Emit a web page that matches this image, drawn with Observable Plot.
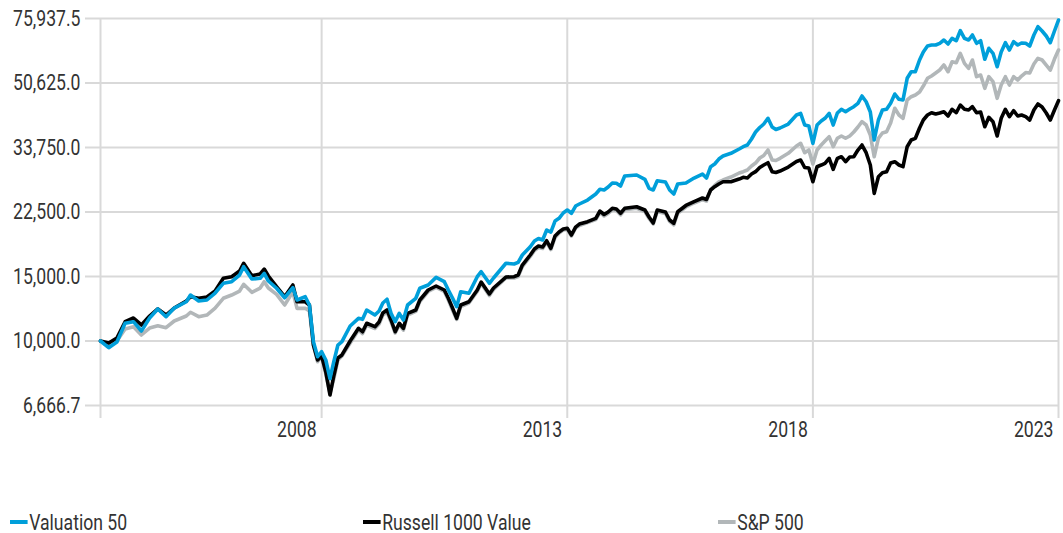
<!DOCTYPE html>
<html><head><meta charset="utf-8">
<script src="https://cdn.jsdelivr.net/npm/d3@7"></script>
<script src="https://cdn.jsdelivr.net/npm/@observablehq/plot@0.6"></script>
<style>
body{margin:0;background:#fff;font-family:Roboto,sans-serif;width:1063px;height:533px;overflow:hidden;position:relative;}
#chart{position:absolute;left:0;top:0;}
.legend-item{position:absolute;top:510px;display:flex;align-items:center;font-size:22px;line-height:1.17;color:#333;transform:scaleX(0.8);transform-origin:left center;white-space:nowrap;}
.swatch{display:inline-block;width:22px;height:4px;margin-right:2px;position:relative;top:-1px;}
</style></head><body>
<div id="chart"></div>
<div id="legend"></div>
<script>
const dates = [
"2004-06","2004-08","2004-10","2004-12","2005-02","2005-04","2005-06","2005-08","2005-10","2005-12","2006-03","2006-04","2006-06","2006-08","2006-10","2006-12","2007-02","2007-04","2007-05","2007-07","2007-09","2007-10","2007-11","2008-01","2008-03","2008-05","2008-06","2008-08","2008-09","2008-10","2008-11","2008-12",
"2009-01","2009-02","2009-03","2009-04","2009-05","2009-07","2009-09","2009-10","2009-11","2010-01","2010-02","2010-03","2010-04","2010-05","2010-06","2010-07","2010-08","2010-09","2010-11","2010-12","2011-02","2011-04","2011-06","2011-07","2011-08","2011-09","2011-10","2011-12","2012-02","2012-03","2012-05","2012-06","2012-09","2012-11","2012-12","2013-01","2013-03","2013-04","2013-05","2013-06","2013-07","2013-08","2013-09","2013-10","2013-11","2013-12",
"2014-01","2014-02","2014-03","2014-05","2014-07","2014-08","2014-09","2014-10","2014-11","2014-12","2015-01","2015-02","2015-05","2015-07","2015-08","2015-09","2015-10","2015-12","2016-01","2016-02","2016-03","2016-05","2016-07","2016-09","2016-10","2016-11","2016-12","2017-01","2017-02","2017-04","2017-06","2017-07","2017-08","2017-09","2017-10","2017-11","2017-12","2018-01","2018-02","2018-03","2018-04","2018-06","2018-08","2018-09","2018-10","2018-11","2018-12",
"2019-01","2019-02","2019-03","2019-04","2019-05","2019-06","2019-07","2019-08","2019-09","2019-10","2019-11","2019-12",
"2020-01","2020-02","2020-03","2020-04","2020-05","2020-06","2020-07","2020-08","2020-09","2020-10","2020-11","2020-12",
"2021-01","2021-02","2021-03","2021-04","2021-05","2021-06","2021-07","2021-08","2021-09","2021-10","2021-11","2021-12",
"2022-01","2022-02","2022-03","2022-04","2022-05","2022-06","2022-07","2022-08","2022-09","2022-10","2022-11","2022-12",
"2023-01","2023-02","2023-03","2023-04","2023-05","2023-06","2023-07","2023-08","2023-09","2023-10","2023-11","2023-12"
];

const valuation50 = [
10000,9590,9940,11180,11290,10650,11555,12230,11650,12300,12800,13350,12860,12940,13520,14370,14520,15140,15950,14765,14830,15300,14580,13930,13125,13980,12940,13210,12540,9956,9060,9350,
8875,7890,8765,9750,9956,10990,11530,11460,12150,11775,12075,12700,13000,11900,11290,11900,11410,12540,13080,13930,14220,14920,14520,13780,13100,12410,13630,13500,14980,15460,14370,14860,16300,16230,16400,17170,18090,18750,19050,18870,20090,19840,21260,21620,22360,22780,
22320,23360,23660,24260,25190,25950,25840,26330,27010,26960,26490,28210,28390,27630,26110,25840,27390,27170,25840,25190,26830,27010,27860,28570,27860,29910,30420,31390,31990,32540,33430,33920,34280,35600,37200,38270,39120,40550,38390,37790,38150,39120,41400,41840,38870,38630,34650,
38870,39865,40550,41840,38870,41920,42910,42270,42990,43610,44560,46650,
45010,42190,35380,40120,42720,42910,44560,47240,45690,45490,52140,54350,
54350,58500,61510,63880,64280,64280,64970,66330,64680,67040,66040,70330,
67040,66330,68450,64970,66040,58760,62960,61010,56080,61510,65210,62290,
65630,64280,65090,64970,63880,68450,72120,70190,68020,65210,70190,75220
];

const russell1000Value = [
10000,9875,10190,11290,11555,11060,11700,12230,11775,12300,12860,13200,13080,13185,13690,14830,14980,15530,16300,15080,15240,15720,15050,14070,13210,14220,12800,12800,12540,9750,8875,9100,
8230,7120,8025,8990,9160,10000,10830,10600,11180,10940,11270,11920,12150,11410,10600,11180,10830,11900,12150,12940,13780,14130,13780,13080,12300,11530,12540,12800,13780,14490,13440,13955,14950,14980,15140,16120,17170,17830,18170,18050,18780,17910,19350,19840,20220,20310,
19470,20470,20860,21170,21620,22640,22150,22500,23030,22930,22320,23030,23260,22780,21800,20990,22780,22500,21400,20960,22540,23440,24030,24570,24340,25840,26380,26830,27220,27220,27680,27980,27860,28570,28990,29760,30230,30670,28990,28840,29110,29850,30910,31200,29760,29670,27220,
29910,30230,30560,31530,29430,31530,31850,30870,31790,31850,33220,34280,
32660,30230,25300,28090,28800,28990,30610,30870,30230,29910,33920,35380,
35760,38150,40120,41400,42000,41660,41920,42270,41140,42910,42000,44080,
42910,42720,43610,42000,42190,38460,40800,39690,36280,40550,42910,40960,
42530,41140,41400,40960,40120,42720,44360,43530,41920,40120,42720,45290
];

const sp500 = [
10000,9750,10000,10785,10940,10385,10850,11010,10870,11340,11700,11980,11650,11775,12300,13080,13350,13690,14280,13580,13950,14520,13950,13410,12540,13630,12280,12280,12075,9750,8780,9060,
8125,7210,7875,8875,9100,9875,10715,10480,11060,10815,11130,11775,12000,11270,10515,11060,10715,11775,12040,12820,13650,14000,13650,12940,12150,11450,12420,12700,13650,14350,13310,13820,14860,14860,15000,15970,17010,17660,18000,17890,18630,17770,19170,19720,20090,20150,
19350,20350,20670,21060,21460,22430,21940,22290,22810,22710,22100,22810,23040,22570,21600,20860,22570,22290,21200,20760,22330,23220,23810,24340,24110,25920,26580,27170,27510,28030,28750,28990,29300,30040,30610,31590,32090,33220,31200,31100,31530,32540,34070,34650,32660,33220,30420,
33220,34280,35155,36120,33920,35760,36280,35760,36280,37200,38390,39690,
38870,36500,31850,35760,36970,37270,39360,43180,41400,40550,45490,46440,
46940,47840,49670,52140,52900,53900,54930,56680,54350,57870,57510,61010,
57290,55520,58500,52670,53230,48960,52670,51040,45980,49990,52670,49990,
52670,51580,52900,54070,53900,57040,59120,58500,56680,54930,58860,62290
];

const seriesNames = ["Valuation 50", "Russell 1000 Value", "S&P 500"];
const seriesColors = ["#009fda", "#000000", "#b2b7b9"];
const yTicks = [6666.7, 10000, 15000, 22500, 33750, 50625, 75937.5];
const xTickDates = ["2004-06", "2008-12", "2013-12", "2018-12", "2023-12"];
const xTickLabels = ["", "2008", "2013", "2018", "2023"];

const parse = d3.utcParse("%Y-%m");
const seriesValues = [valuation50, russell1000Value, sp500];
const rows = [];
seriesNames.forEach((name, k) => {
  dates.forEach((d, i) => rows.push({date: parse(d), value: seriesValues[k][i], series: name}));
});
const xTicks = xTickDates.map(parse);
const fmtY = d3.format(",.1f");
const fmtX = d => { const i = xTicks.findIndex(t => +t === +d); return i >= 0 ? xTickLabels[i] : ""; };

const lineFor = k => Plot.line(rows.filter(r => r.series === seriesNames[k]),
  {x: "date", y: "value", stroke: seriesColors[k], strokeWidth: 3.6, strokeLinejoin: "round"});

const plot = Plot.plot({
  width: 1063, height: 445,
  marginTop: 18, marginBottom: 40, marginLeft: 100, marginRight: 5,
  style: {fontFamily: "Roboto, sans-serif", fontSize: "22px", color: "#333", background: "#fff", overflow: "visible"},
  x: {type: "utc", domain: [xTicks[0], xTicks[xTicks.length - 1]]},
  y: {type: "log", domain: [yTicks[0], yTicks[yTicks.length - 1]]},
  marks: [
    Plot.gridY(yTicks, {stroke: "#d9d9d9", strokeOpacity: 1, strokeWidth: 2}),
    Plot.gridX(xTicks, {stroke: "#d9d9d9", strokeOpacity: 1, strokeWidth: 2}),
    Plot.axisY(yTicks, {tickSize: 15, tickPadding: 5, stroke: "#d9d9d9", strokeWidth: 2, strokeOpacity: 1, tickFormat: fmtY, label: null, fill: "#333"}),
    Plot.axisX(xTicks, {tickSize: 13, stroke: "#d9d9d9", strokeWidth: 2, strokeOpacity: 1, tickFormat: () => "", label: null}),
    Plot.axisX(xTicks, {tickSize: 0, tickPadding: 16, tickFormat: fmtX, label: null, fill: "#333", textAnchor: "end", dx: -5}),
    lineFor(2),
    lineFor(1),
    lineFor(0)
  ]
});

document.getElementById("chart").appendChild(plot);
// condense the axis labels horizontally (the reference uses a condensed face)
plot.querySelectorAll("text").forEach(t => {
  const L = t.getComputedTextLength();
  if (L > 0) {
    t.setAttribute("textLength", (L * 0.8).toFixed(2));
    t.setAttribute("lengthAdjust", "spacingAndGlyphs");
  }
});

const legendLeft = [10, 363, 718];
const legend = document.getElementById("legend");
seriesNames.forEach((name, k) => {
  const item = document.createElement("div");
  item.className = "legend-item";
  item.style.left = legendLeft[k] + "px";
  const sw = document.createElement("span");
  sw.className = "swatch";
  sw.style.background = seriesColors[k];
  item.appendChild(sw);
  item.appendChild(document.createTextNode(name));
  legend.appendChild(item);
});
</script>
</body></html>
